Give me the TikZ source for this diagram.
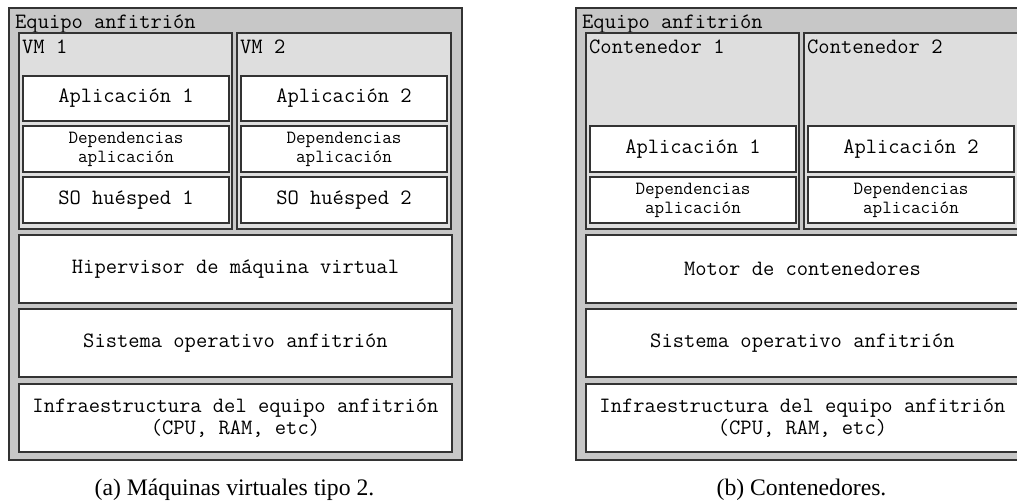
\documentclass[tikz,border=0pt]{standalone}
\usepackage{fontspec}
\setmainfont{Liberation Serif}
\tikzset{
 frame/.style={draw=black!80, line width=1.2pt, inner sep=0pt, outer sep=0pt,
   font=\ttfamily\fontsize{21.9}{22}\selectfont, align=center},
 hostbox/.style={frame, fill=black!22},
 vmbox/.style={frame, fill=black!13},
 layerbox/.style={frame, fill=white},
 smallbox/.style={frame, fill=white, font=\ttfamily\fontsize{18.6}{19}\selectfont},
 title/.style={font=\ttfamily\fontsize{21.9}{22}\selectfont, inner sep=0pt, anchor=base west},
 captionlbl/.style={font=\fontsize{23.7}{28}\selectfont, inner sep=0pt, anchor=base}
}
\newcommand{\bx}[7]{\node[#6, minimum width={(#4-#2)*1pt}, minimum height={(#5-#3)*1pt}] (#1) at ({(#2+#4)/2},{(#3+#5)/2}) {#7};}
\begin{document}
\begin{tikzpicture}[x=1pt,y=-1pt]
\useasboundingbox (0,0) rectangle (1017,501);
\clip (0,0) rectangle (1017,501);
% ---------- left panel ----------
\bx{hostA}{9}{8}{462}{460}{hostbox}{}
\node[title] (hostAlbl) at (15,28) {Equipo anfitrión};
\bx{vm1}{19}{33}{232}{229}{vmbox}{}
\node[title] (vm1lbl) at (22,53) {VM 1};
\bx{vm2}{237}{33}{451}{229}{vmbox}{}
\node[title] (vm2lbl) at (240,53) {VM 2};
\bx{appA1}{23}{76}{229}{121}{layerbox}{Aplicación 1}
\bx{depA1}{23}{126}{229}{172}{smallbox}{Dependencias\\aplicación}
\bx{so1}{23}{177}{229}{223}{layerbox}{SO huésped 1}
\bx{appA2}{241}{76}{447}{121}{layerbox}{Aplicación 2}
\bx{depA2}{241}{126}{447}{172}{smallbox}{Dependencias\\aplicación}
\bx{so2}{241}{177}{447}{223}{layerbox}{SO huésped 2}
\bx{hyp}{19}{235}{452}{303}{layerbox}{Hipervisor de máquina virtual}
\bx{osA}{19}{309}{452}{377}{layerbox}{Sistema operativo anfitrión}
\bx{infA}{19}{384}{452}{452}{layerbox}{Infraestructura del equipo anfitrión\\(CPU, RAM, etc)}
\node[captionlbl] (capA) at (234.5,495) {(a) Máquinas virtuales tipo 2.};
% ---------- right panel ----------
\bx{hostB}{576}{8}{1029}{460}{hostbox}{}
\node[title] (hostBlbl) at (582,28) {Equipo anfitrión};
\bx{ct1}{586}{33}{799}{229}{vmbox}{}
\node[title] (ct1lbl) at (589,53) {Contenedor 1};
\bx{ct2}{804}{33}{1018}{229}{vmbox}{}
\node[title] (ct2lbl) at (807,53) {Contenedor 2};
\bx{appB1}{590}{126}{796}{172}{layerbox}{Aplicación 1}
\bx{depB1}{590}{177}{796}{223}{smallbox}{Dependencias\\aplicación}
\bx{appB2}{808}{126}{1014}{172}{layerbox}{Aplicación 2}
\bx{depB2}{808}{177}{1014}{223}{smallbox}{Dependencias\\aplicación}
\bx{eng}{586}{235}{1019}{303}{layerbox}{Motor de contenedores}
\bx{osB}{586}{309}{1019}{377}{layerbox}{Sistema operativo anfitrión}
\bx{infB}{586}{384}{1019}{452}{layerbox}{Infraestructura del equipo anfitrión\\(CPU, RAM, etc)}
\node[captionlbl] (capB) at (801.5,495) {(b) Contenedores.};
\end{tikzpicture}
\end{document}
